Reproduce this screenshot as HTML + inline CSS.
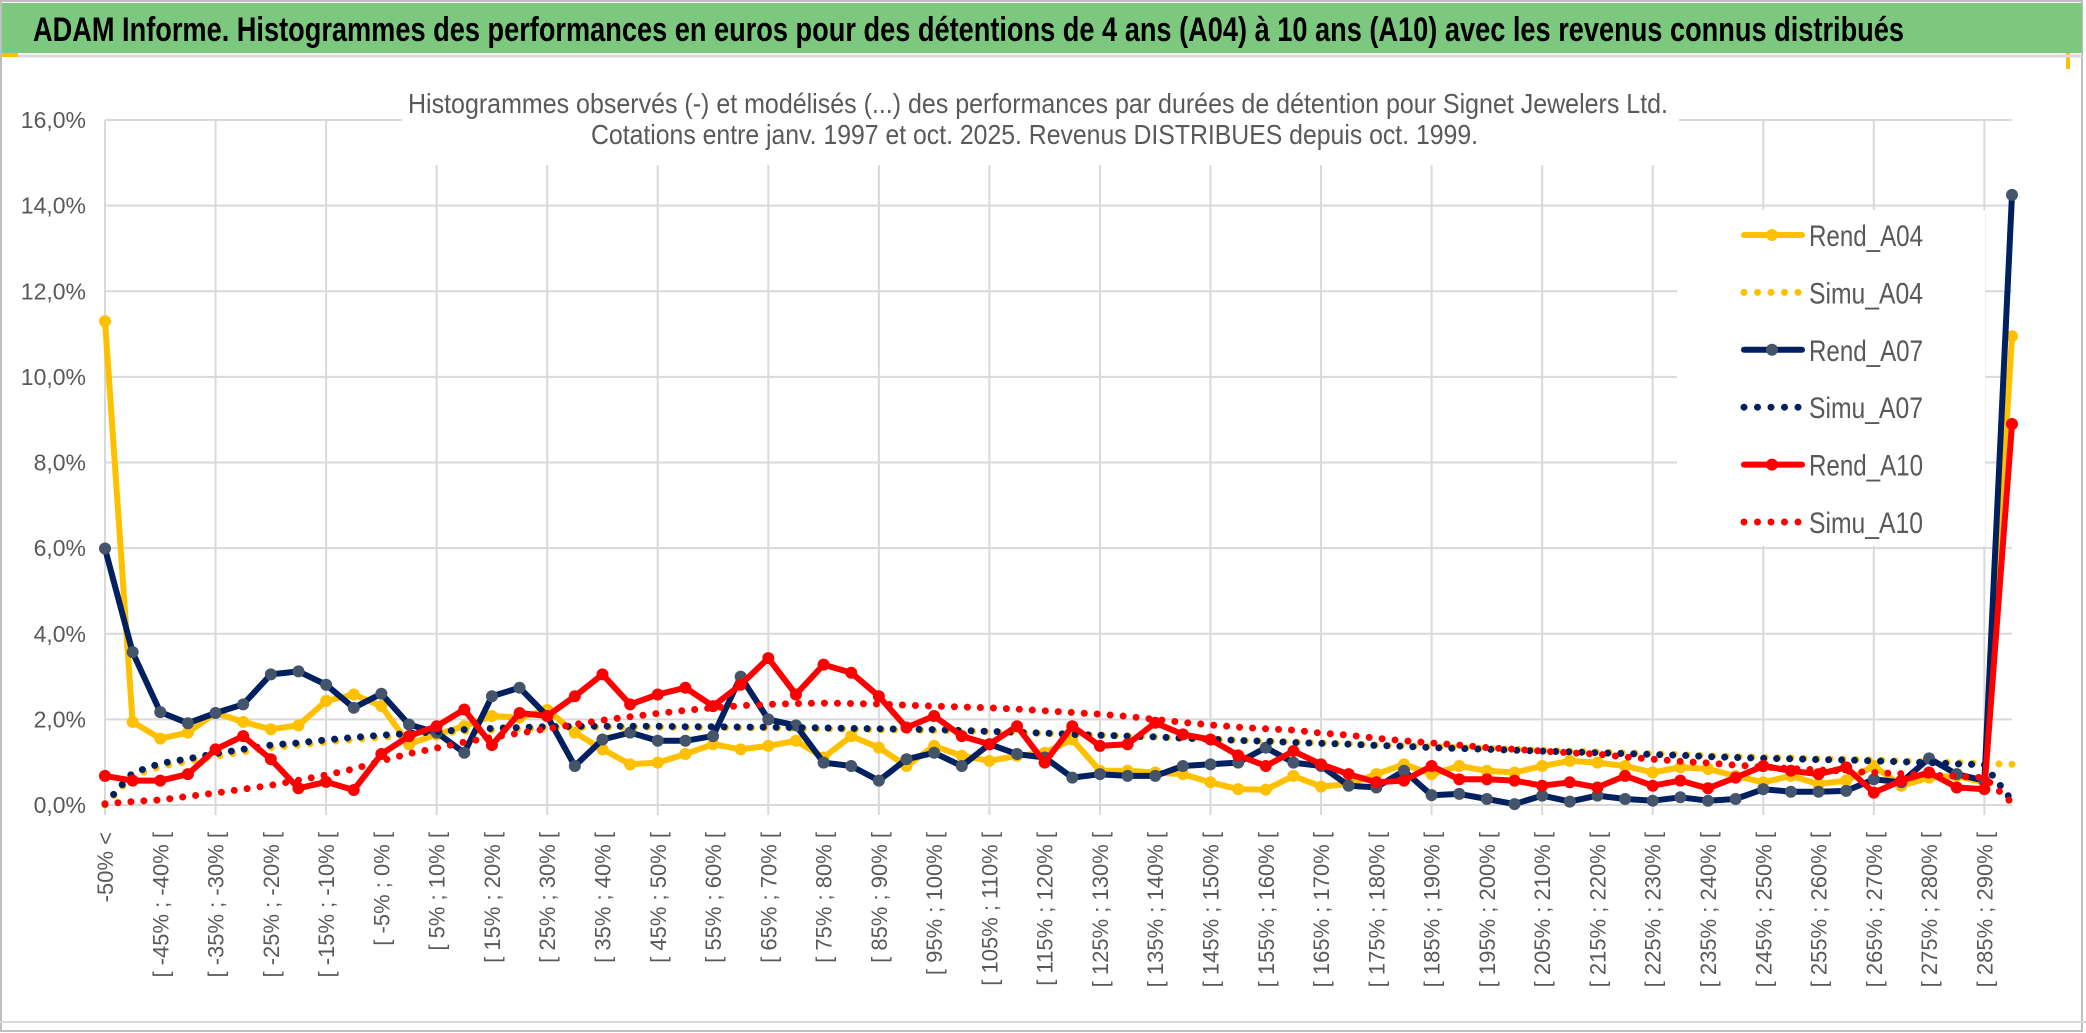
<!DOCTYPE html>
<html><head><meta charset="utf-8"><style>
html,body{margin:0;padding:0;background:#fff;}
svg{display:block;font-family:"Liberation Sans",sans-serif;}
</style></head><body>
<svg id="chart" width="2086" height="1033" viewBox="0 0 2086 1033" xmlns="http://www.w3.org/2000/svg">
<rect x="0" y="0" width="2086" height="1033" fill="#fff"/>
<rect x="1" y="1" width="2081" height="1030" fill="none" stroke="#bfbfbf" stroke-width="2"/>
<rect x="2" y="3" width="2080" height="50" fill="#7dc87f"/>
<rect x="2" y="53" width="16" height="4" fill="#ffc000"/>
<rect x="2066" y="53" width="4" height="16" fill="#ffc000"/>
<line x1="18" y1="56" x2="2082" y2="56" stroke="#d9d9d9" stroke-width="3"/>
<text x="33" y="41" font-size="34" font-weight="bold" fill="#000" textLength="1871" lengthAdjust="spacingAndGlyphs">ADAM Informe. Histogrammes des performances en euros pour des détentions de 4 ans (A04) à 10 ans (A10) avec les revenus connus distribués</text>
<g id="grid"></g>
<g id="yaxis"></g>
<g id="xaxis"></g>
<rect x="402" y="68" width="1277" height="97" fill="#fff"/>
<text x="408" y="113" font-size="28" fill="#595959" textLength="1260" lengthAdjust="spacingAndGlyphs">Histogrammes observés (-) et modélisés (...) des performances par durées de détention pour Signet Jewelers Ltd.</text>
<text x="591" y="144" font-size="28" fill="#595959" textLength="887" lengthAdjust="spacingAndGlyphs">Cotations entre janv. 1997 et oct. 2025. Revenus DISTRIBUES depuis oct. 1999.</text>
<rect x="1677" y="210" width="308" height="336" fill="#fff"/>
<g id="series"></g>
<g id="legend"></g>
<line x1="0" y1="1022" x2="2086" y2="1022" stroke="#d9d9d9" stroke-width="2"/>
</svg>
<script>
const categories = [];
categories.push("-50% <");
for (let k = 1; k < 70; k++) { const lo = -55 + 5 * k; categories.push("[ " + lo + "% ; " + (lo + 5) + "% ["); }
const yTicks = [0,2,4,6,8,10,12,14,16];
const yTickLabels = ["0,0%","2,0%","4,0%","6,0%","8,0%","10,0%","12,0%","14,0%","16,0%"];
const rendA04 = [11.3,1.94,1.55,1.69,2.15,1.94,1.77,1.86,2.43,2.58,2.31,1.42,1.65,1.84,2.08,2.04,2.22,1.69,1.3,0.95,0.99,1.19,1.42,1.3,1.38,1.5,1.11,1.61,1.34,0.91,1.38,1.15,1.03,1.15,1.22,1.53,0.8,0.8,0.76,0.72,0.53,0.37,0.36,0.68,0.43,0.49,0.72,0.95,0.72,0.91,0.8,0.76,0.91,1.03,0.99,0.91,0.76,0.88,0.84,0.68,0.53,0.68,0.49,0.57,0.91,0.45,0.64,0.68,0.53,10.95];
const simuA04 = [0.0,0.68,0.9,1.02,1.14,1.24,1.34,1.4,1.47,1.53,1.58,1.63,1.67,1.72,1.75,1.78,1.8,1.81,1.82,1.82,1.82,1.81,1.81,1.8,1.8,1.79,1.78,1.77,1.76,1.75,1.74,1.73,1.71,1.69,1.67,1.65,1.63,1.61,1.59,1.56,1.54,1.51,1.49,1.47,1.45,1.43,1.4,1.38,1.36,1.34,1.32,1.3,1.28,1.26,1.24,1.22,1.2,1.18,1.15,1.13,1.11,1.1,1.08,1.07,1.05,1.03,1.01,0.99,0.97,0.95];
const rendA07 = [5.99,3.57,2.17,1.91,2.15,2.35,3.05,3.12,2.81,2.27,2.6,1.88,1.69,1.22,2.54,2.74,2.08,0.91,1.53,1.69,1.5,1.5,1.61,3.0,2.0,1.86,0.99,0.91,0.57,1.07,1.22,0.91,1.42,1.19,1.11,0.64,0.72,0.68,0.68,0.91,0.95,0.99,1.34,0.99,0.91,0.45,0.41,0.8,0.23,0.26,0.14,0.02,0.22,0.08,0.22,0.14,0.1,0.18,0.1,0.14,0.37,0.31,0.31,0.33,0.6,0.53,1.09,0.72,0.57,14.25];
const simuA07 = [0.02,0.75,0.97,1.08,1.2,1.3,1.4,1.45,1.52,1.58,1.63,1.67,1.71,1.76,1.79,1.81,1.83,1.84,1.84,1.84,1.84,1.83,1.83,1.82,1.82,1.81,1.8,1.79,1.78,1.77,1.76,1.74,1.72,1.7,1.68,1.65,1.63,1.61,1.59,1.56,1.54,1.51,1.49,1.46,1.44,1.42,1.39,1.37,1.34,1.32,1.3,1.28,1.26,1.24,1.22,1.2,1.18,1.16,1.13,1.11,1.09,1.08,1.06,1.05,1.03,1.01,0.99,0.96,0.94,0.1];
const rendA10 = [0.68,0.57,0.57,0.72,1.3,1.61,1.07,0.39,0.54,0.35,1.19,1.61,1.84,2.23,1.4,2.15,2.08,2.54,3.05,2.35,2.58,2.74,2.31,2.81,3.43,2.58,3.28,3.09,2.54,1.81,2.08,1.61,1.42,1.84,0.99,1.84,1.38,1.42,1.92,1.65,1.53,1.16,0.91,1.26,0.95,0.72,0.53,0.57,0.91,0.6,0.6,0.57,0.45,0.53,0.41,0.68,0.45,0.57,0.39,0.64,0.91,0.8,0.72,0.88,0.29,0.57,0.76,0.41,0.37,8.9];
const simuA10 = [0.03,0.08,0.12,0.2,0.28,0.37,0.46,0.58,0.7,0.84,1.03,1.2,1.33,1.47,1.58,1.68,1.78,1.88,1.98,2.06,2.14,2.21,2.27,2.32,2.35,2.37,2.38,2.37,2.36,2.33,2.31,2.29,2.27,2.24,2.2,2.16,2.12,2.07,2.0,1.93,1.87,1.82,1.78,1.75,1.68,1.63,1.56,1.5,1.45,1.4,1.34,1.3,1.26,1.22,1.19,1.12,1.07,1.02,0.98,0.93,0.89,0.85,0.82,0.79,0.76,0.73,0.7,0.67,0.64,0.05];

const NS = "http://www.w3.org/2000/svg";
const X0 = 105, X1 = 2012, Y0 = 805, YTOP = 120, YMAX = 16;
function xScale(i){ return X0 + i * (X1 - X0) / (categories.length - 1); }
function yScale(v){ return Y0 - v * (Y0 - YTOP) / YMAX; }
function mk(tag, attrs, parent){ const e = document.createElementNS(NS, tag); for (const k in attrs) e.setAttribute(k, attrs[k]); parent.appendChild(e); return e; }

const grid = document.getElementById("grid");
yTicks.forEach((t, i) => {
  const l = mk("line", {x1: X0, x2: X1, y1: yScale(t), y2: yScale(t), stroke: "#d9d9d9", "stroke-width": 2}, grid);
  
  
  const tx = mk("text", {x: 86, y: yScale(t) + 8, "text-anchor": "end", "font-size": 23, fill: "#595959"}, document.getElementById("yaxis"));
  tx.textContent = yTickLabels[i];
  
  
});
for (let i = 0; i < categories.length; i += 4) {
  const l = mk("line", {x1: xScale(i), x2: xScale(i), y1: YTOP, y2: Y0 + 10, stroke: "#d9d9d9", "stroke-width": 2}, grid);
  
  
}
const xaxis = document.getElementById("xaxis");
for (let i = 0; i < categories.length - 1; i += 2) {
  const x = xScale(i) + 8, y = 832;
  const t = mk("text", {x: x, y: y, transform: "rotate(-90 " + x + " " + y + ")", "text-anchor": "end", "font-size": 22, fill: "#595959"}, xaxis);
  t.textContent = categories[i];
  
  
}

const series = document.getElementById("series");
function pts(arr){ return arr.map((v, i) => xScale(i).toFixed(1) + "," + yScale(v).toFixed(1)).join(" "); }
function solid(arr, color, marker, name){
  const g = mk("g", {}, series);
  
  
  mk("polyline", {points: pts(arr), fill: "none", stroke: color, "stroke-width": 6, "stroke-linejoin": "round"}, g);
  arr.forEach((v, i) => {
    const c = mk("circle", {cx: xScale(i), cy: yScale(v), r: 6, fill: marker}, g);
    
    
  });
}
function dotted(arr, color, name){
  const p = mk("polyline", {points: pts(arr), fill: "none", stroke: color, "stroke-width": 7, "stroke-linecap": "round", "stroke-dasharray": "0 13"}, series);
  
  
}
solid(rendA04, "#ffc000", "#ffc000", "rend-a04-line");
dotted(simuA04, "#ffc000", "simu-a04-line");
solid(rendA07, "#002060", "#44546a", "rend-a07-line");
dotted(simuA07, "#002060", "simu-a07-line");
solid(rendA10, "#ff0000", "#ff0000", "rend-a10-line");
dotted(simuA10, "#ff0000", "simu-a10-line");

const legendNames = ["Rend_A04","Simu_A04","Rend_A07","Simu_A07","Rend_A10","Simu_A10"];
const legendColors = ["#ffc000","#ffc000","#002060","#002060","#ff0000","#ff0000"];
const legendMarkers = ["#ffc000",null,"#44546a",null,"#ff0000",null];
const legend = document.getElementById("legend");
legendNames.forEach((n, i) => {
  const y = 235 + i * 57.4;
  const g = mk("g", {}, legend);
  
  
  if (legendMarkers[i]) {
    mk("line", {x1: 1744, x2: 1802, y1: y, y2: y, stroke: legendColors[i], "stroke-width": 6, "stroke-linecap": "round"}, g);
    mk("circle", {cx: 1772, cy: y, r: 6, fill: legendMarkers[i]}, g);
  } else {
    mk("line", {x1: 1744, x2: 1802, y1: y, y2: y, stroke: legendColors[i], "stroke-width": 7, "stroke-linecap": "round", "stroke-dasharray": "0 13.5"}, g);
  }
  const t = mk("text", {x: 1809, y: y + 11, "font-size": 30, fill: "#595959", textLength: 114, lengthAdjust: "spacingAndGlyphs"}, g);
  t.textContent = n;
});
</script>
</body></html>
